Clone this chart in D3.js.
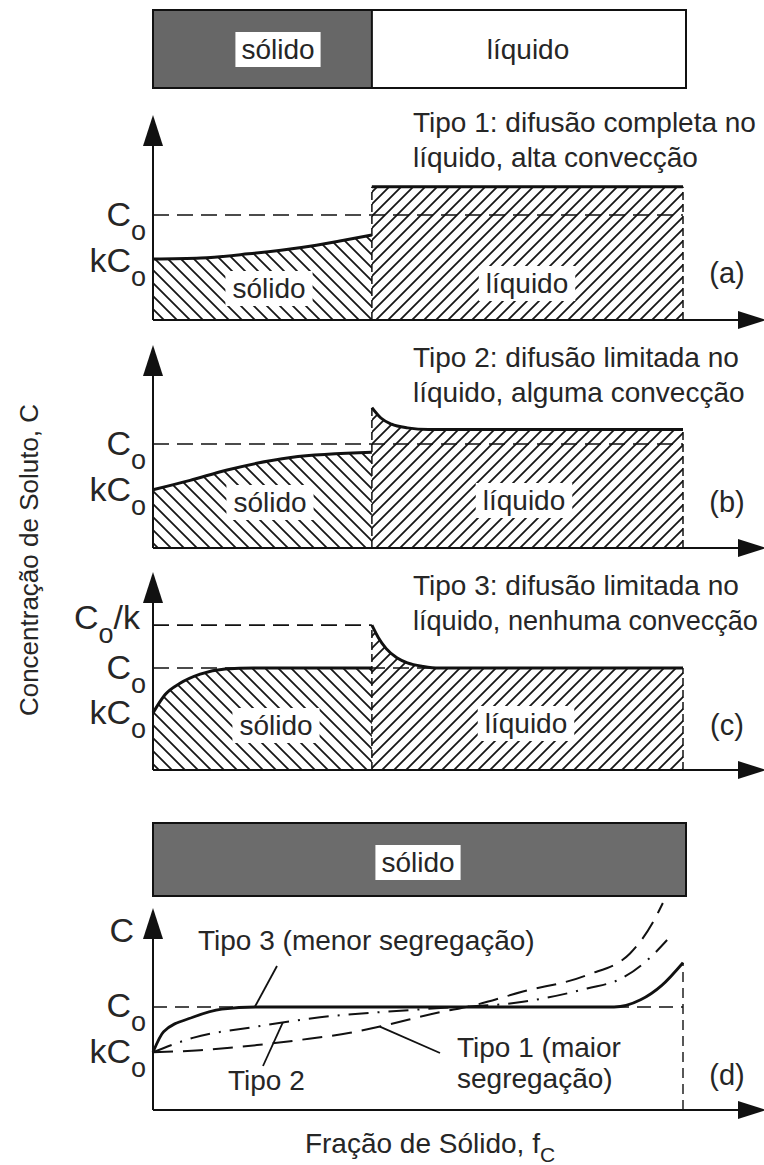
<!DOCTYPE html>
<html>
<head>
<meta charset="utf-8">
<script src="https://cdn.jsdelivr.net/npm/d3@7"></script>
<style>
  body { margin: 0; background: #fff; }
  text { font-family: "Liberation Sans", Arial, sans-serif; fill: #262626; }
</style>
</head>
<body>
<script>
// interface position (fraction of the bar) and concentration curves, C in units of Co
var interfacePos = 0.413;

var solidA = [[0, 0.58], [0.09, 0.59], [0.18, 0.63], [0.28, 0.69], [0.35, 0.75], [0.413, 0.81]];
var liquidA = [[0.413, 1.27], [1, 1.27]];

var solidB = [[0, 0.56], [0.07, 0.65], [0.14, 0.75], [0.26, 0.87], [0.413, 0.92]];
var liquidB = [[0.413, 1.35], [0.43, 1.25], [0.45, 1.19], [0.48, 1.155], [0.52, 1.14], [1, 1.14]];

var solidC = [[0, 0.56], [0.023, 0.74], [0.051, 0.85], [0.089, 0.94], [0.136, 0.99], [0.19, 1.0], [0.413, 1.0]];
var liquidC = [[0.413, 1.42], [0.425, 1.3], [0.44, 1.19], [0.46, 1.1], [0.48, 1.05], [0.51, 1.015], [0.54, 1.0], [1, 1.0]];

var tipo3 = [[0, 0.56], [0.02, 0.76], [0.075, 0.9], [0.13, 0.98], [0.2, 1.0], [0.87, 1.0], [0.92, 1.07], [0.96, 1.21], [1, 1.43]];
var tipo2 = [[0, 0.56], [0.075, 0.7], [0.196, 0.81], [0.315, 0.9], [0.428, 0.95], [0.542, 0.99], [0.698, 1.05], [0.819, 1.18], [0.885, 1.28], [0.938, 1.48], [0.97, 1.65]];
var tipo1 = [[0, 0.56], [0.089, 0.58], [0.196, 0.63], [0.277, 0.68], [0.372, 0.75], [0.428, 0.81], [0.542, 0.95], [0.6, 1.01], [0.698, 1.15], [0.819, 1.31], [0.9, 1.52], [0.943, 1.82], [0.962, 2.01]];

// where the leader lines of panel (d) touch the curves
var leaderAnchors = [[0.192, 1.0], [0.245, 0.85], [0.428, 0.81]];

var levelK = 0.56;
var levelCoK = 1.42;

var titles = {
  a: ["Tipo 1: difusão completa no", "líquido, alta convecção"],
  b: ["Tipo 2: difusão limitada no", "líquido, alguma convecção"],
  c: ["Tipo 3: difusão limitada no", "líquido, nenhuma convecção"]
};

var svg = d3.select("body").append("svg").attr("width", 764).attr("height", 1165);

var x = d3.scaleLinear().domain([0, 1]).range([153, 683]);

var defs = svg.append("defs");
defs.append("pattern")
    .attr("id", "hatchSolid")
    .attr("patternUnits", "userSpaceOnUse")
    .attr("width", 13).attr("height", 13)
  .append("path")
    .attr("d", "M-3,10 L3,16 M0,0 L13,13 M10,-3 L16,3")
    .attr("stroke", "#161616").attr("stroke-width", 1.8);
defs.append("pattern")
    .attr("id", "hatchLiquid")
    .attr("patternUnits", "userSpaceOnUse")
    .attr("width", 12).attr("height", 12)
  .append("path")
    .attr("d", "M-3,3 L3,-3 M0,12 L12,0 M9,15 L15,9")
    .attr("stroke", "#161616").attr("stroke-width", 1.8);

function boxedText(g, tx, ty, str, padX, padY) {
  var t = g.append("text").attr("x", tx).attr("y", ty)
      .attr("text-anchor", "middle").attr("font-size", 28).text(str);
  var b = t.node().getBBox();
  g.insert("rect", function() { return t.node(); })
      .attr("x", b.x - padX).attr("y", b.y - padY)
      .attr("width", b.width + 2 * padX).attr("height", b.height + 2 * padY)
      .attr("fill", "#fff");
  return t;
}

function yArrow(g, x0, yBottom, yTip) {
  g.append("line").attr("x1", x0).attr("x2", x0).attr("y1", yBottom).attr("y2", yTip + 20)
      .attr("stroke", "#111").attr("stroke-width", 2);
  g.append("path")
      .attr("d", "M" + x0 + "," + yTip + "L" + (x0 - 10) + "," + (yTip + 31) + "L" + (x0 + 10) + "," + (yTip + 31) + "Z")
      .attr("fill", "#111");
}

function xArrow(g, yAxis) {
  g.append("line").attr("x1", x(0)).attr("x2", 745).attr("y1", yAxis).attr("y2", yAxis)
      .attr("stroke", "#111").attr("stroke-width", 2);
  g.append("path")
      .attr("d", "M766," + yAxis + "L738," + (yAxis - 9) + "L738," + (yAxis + 9) + "Z")
      .attr("fill", "#111");
}

function levelLabel(g, yPix, main, tail, endX, base) {
  var t = g.append("text").attr("x", endX).attr("y", yPix + base)
      .attr("text-anchor", "end").attr("font-size", 34);
  t.append("tspan").text(main);
  t.append("tspan").attr("dy", 14).attr("font-size", 27).text("o");
  if (tail) t.append("tspan").attr("dy", -14).text(tail);
}

// ---------- top bar ----------
var topBar = svg.append("g");
topBar.append("rect").attr("x", x(0)).attr("y", 10).attr("width", x(interfacePos) - x(0)).attr("height", 78)
    .attr("fill", "#676767");
topBar.append("rect").attr("x", x(0)).attr("y", 10).attr("width", 686 - x(0)).attr("height", 78)
    .attr("fill", "none").attr("stroke", "#111").attr("stroke-width", 2);
topBar.append("line").attr("x1", x(interfacePos)).attr("x2", x(interfacePos)).attr("y1", 10).attr("y2", 88)
    .attr("stroke", "#111").attr("stroke-width", 2);
boxedText(topBar, 278, 59, "sólido", 6, 2);
topBar.append("text").attr("x", 528).attr("y", 59).attr("text-anchor", "middle").attr("font-size", 28).text("líquido");

// ---------- panels a, b, c ----------
var panels = [
  {id: "a", axisY: 320, c0Y: 215, tipY: 115, solid: solidA, liquid: liquidA, titleY: 132,
   solidLbl: [269, 298], liqLbl: [527, 293], coK: false},
  {id: "b", axisY: 548, c0Y: 444, tipY: 345, solid: solidB, liquid: liquidB, titleY: 367,
   solidLbl: [270, 512], liqLbl: [524, 510], coK: false},
  {id: "c", axisY: 770, c0Y: 668, tipY: 572, solid: solidC, liquid: liquidC, titleY: 595,
   solidLbl: [276, 735], liqLbl: [526, 733], coK: true}
];

panels.forEach(function(p) {
  var g = svg.append("g").attr("class", "panel-" + p.id);
  var y = d3.scaleLinear().domain([0, 1]).range([p.axisY, p.c0Y]);

  var area = d3.area().curve(d3.curveMonotoneX)
      .x(function(d) { return x(d[0]); })
      .y0(p.axisY)
      .y1(function(d) { return y(d[1]); });
  var line = d3.line().curve(d3.curveMonotoneX)
      .x(function(d) { return x(d[0]); })
      .y(function(d) { return y(d[1]); });

  g.append("path").attr("d", area(p.solid)).attr("fill", "url(#hatchSolid)");
  g.append("path").attr("d", area(p.liquid)).attr("fill", "url(#hatchLiquid)");

  // Co reference (and Co/k in panel c)
  g.append("line").attr("x1", x(0)).attr("x2", x(1)).attr("y1", y(1)).attr("y2", y(1))
      .attr("stroke", "#111").attr("stroke-width", 1.6).attr("stroke-dasharray", "16,8");
  if (p.coK) {
    g.append("line").attr("x1", x(0)).attr("x2", x(interfacePos)).attr("y1", y(levelCoK)).attr("y2", y(levelCoK))
        .attr("stroke", "#111").attr("stroke-width", 1.6).attr("stroke-dasharray", "16,8");
  }

  // interface and right edge
  [interfacePos, 1].forEach(function(f) {
    var endC = f === 1 ? p.liquid[p.liquid.length - 1][1] : p.liquid[0][1];
    g.append("line").attr("x1", x(f)).attr("x2", x(f)).attr("y1", p.axisY).attr("y2", y(endC))
        .attr("stroke", "#111").attr("stroke-width", 1.5).attr("stroke-dasharray", "8,4");
  });

  g.append("path").attr("d", line(p.solid)).attr("fill", "none").attr("stroke", "#111").attr("stroke-width", 3);
  g.append("path").attr("d", line(p.liquid)).attr("fill", "none").attr("stroke", "#111").attr("stroke-width", 3);

  boxedText(g, p.solidLbl[0], p.solidLbl[1], "sólido", 7, 2);
  boxedText(g, p.liqLbl[0], p.liqLbl[1], "líquido", 7, 2);

  yArrow(g, x(0), p.axisY, p.tipY);
  xArrow(g, p.axisY);

  titles[p.id].forEach(function(s, i) {
    var t = g.append("text").attr("x", 413).attr("y", p.titleY + i * 35).attr("font-size", 28).text(s);
    // shrink a line that would run past the right edge
    var w = t.node().getComputedTextLength();
    if (w > 346) t.attr("font-size", Math.floor(28 * 346 / w * 10) / 10);
  });
  g.append("text").attr("x", 727).attr("y", y(levelK) + 22).attr("text-anchor", "middle")
      .attr("font-size", 29).text("(" + p.id + ")");

  levelLabel(g, y(1), "C", null, 146, 11);
  levelLabel(g, y(levelK), "kC", null, 146, 11);
  if (p.coK) levelLabel(g, y(levelCoK), "C", "/k", 140, 4);
});

// ---------- panel d ----------
var gd = svg.append("g").attr("class", "panel-d");
var yd = d3.scaleLinear().domain([0, 1]).range([1110, 1007]);
var lined = d3.line().curve(d3.curveMonotoneX)
    .x(function(d) { return x(d[0]); })
    .y(function(d) { return yd(d[1]); });

gd.append("rect").attr("x", x(0)).attr("y", 823).attr("width", 686 - x(0)).attr("height", 73)
    .attr("fill", "#6c6c6c").attr("stroke", "#111").attr("stroke-width", 2);
boxedText(gd, 418, 872, "sólido", 6, 2);

gd.append("line").attr("x1", x(0)).attr("x2", x(1)).attr("y1", yd(1)).attr("y2", yd(1))
    .attr("stroke", "#111").attr("stroke-width", 1.6).attr("stroke-dasharray", "14,8");
gd.append("line").attr("x1", x(1)).attr("x2", x(1)).attr("y1", 1110).attr("y2", yd(tipo3[tipo3.length - 1][1]))
    .attr("stroke", "#111").attr("stroke-width", 1.4).attr("stroke-dasharray", "10,6");

gd.append("path").attr("d", lined(tipo1)).attr("fill", "none").attr("stroke", "#111")
    .attr("stroke-width", 2).attr("stroke-dasharray", "20,10");
gd.append("path").attr("d", lined(tipo2)).attr("fill", "none").attr("stroke", "#111")
    .attr("stroke-width", 2).attr("stroke-dasharray", "20,9,2,9");
gd.append("path").attr("d", lined(tipo3)).attr("fill", "none").attr("stroke", "#111")
    .attr("stroke-width", 2.8);

yArrow(gd, x(0), 1110, 908);
xArrow(gd, 1110);

var leaderEnds = [[277, 966], [263, 1066], [440, 1053]];
leaderAnchors.forEach(function(a, i) {
  gd.append("line").attr("x1", x(a[0])).attr("y1", yd(a[1]))
      .attr("x2", leaderEnds[i][0]).attr("y2", leaderEnds[i][1])
      .attr("stroke", "#111").attr("stroke-width", 1.8);
});

gd.append("text").attr("x", 198).attr("y", 950).attr("font-size", 28).text("Tipo 3 (menor segregação)");
gd.append("text").attr("x", 228).attr("y", 1090).attr("font-size", 28).text("Tipo 2");
gd.append("text").attr("x", 457).attr("y", 1057).attr("font-size", 28).text("Tipo 1 (maior");
gd.append("text").attr("x", 457).attr("y", 1088).attr("font-size", 28).text("segregação)");
gd.append("text").attr("x", 727).attr("y", 1085).attr("text-anchor", "middle").attr("font-size", 29).text("(d)");

gd.append("text").attr("x", 134).attr("y", 942).attr("text-anchor", "end").attr("font-size", 34).text("C");
levelLabel(gd, yd(1), "C", null, 146, 10);
levelLabel(gd, yd(levelK), "kC", null, 146, 11);

// ---------- axis titles ----------
var xt = svg.append("text").attr("x", 430).attr("y", 1153).attr("text-anchor", "middle").attr("font-size", 28);
xt.append("tspan").text("Fração de Sólido, f");
xt.append("tspan").attr("dy", 9).attr("font-size", 21).text("C");

svg.append("text").attr("transform", "translate(38,560) rotate(-90)")
    .attr("text-anchor", "middle").attr("font-size", 26).text("Concentração de Soluto, C");
</script>
</body>
</html>
